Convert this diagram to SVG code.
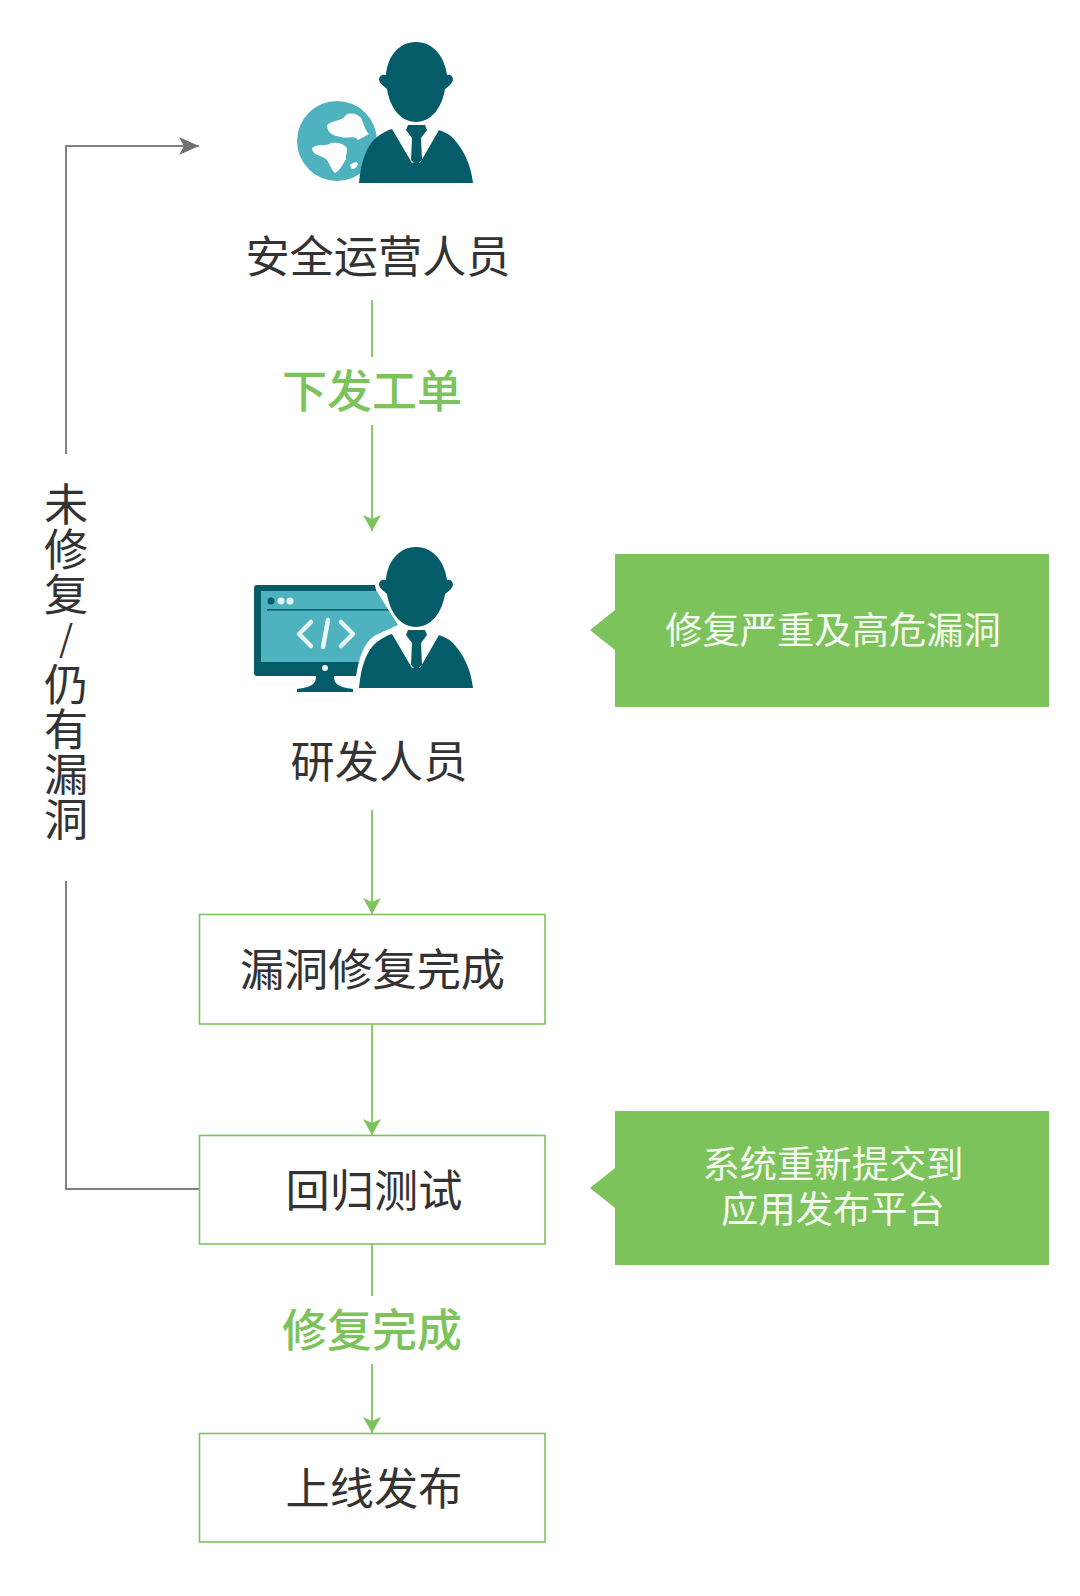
<svg xmlns="http://www.w3.org/2000/svg" xmlns:xlink="http://www.w3.org/1999/xlink" width="1080" height="1596" viewBox="0 0 1080 1596">
<style>
text{font-family:"Noto Sans CJK SC","Noto Sans",sans-serif;text-anchor:middle}
.dark{font-size:44.2px;fill:#333}
.grn{font-size:45px;fill:#7dc35c;font-weight:500}
.wht{font-size:37.300px;fill:#f4faf0}
.box{fill:#fff;stroke:#7dc35c;stroke-width:1.6}
.call{fill:#7dc35c}
.g{fill:none;stroke:#7dc35c;stroke-width:1.8}
.k{fill:none;stroke:#808080;stroke-width:2}
.teal{fill:#045c69}
.lt{fill:#4fb3bf}
</style>
<defs>
<marker id="ag" markerUnits="userSpaceOnUse" markerWidth="18" markerHeight="20" refX="16" refY="10" orient="auto"><path d="M0 1L16 10L0 19L4 10Z" fill="#7dc35c"/></marker>
<marker id="ak" markerUnits="userSpaceOnUse" markerWidth="22" markerHeight="20" refX="20" refY="10" orient="auto"><path d="M0 1L20 10L0 19L5 10Z" fill="#707070"/></marker>
<g id="person">
<path class="teal" d="M416 42C398 42 387 58 386 75C382 74 379 76 379 80C380 84 385 87 387 89C390 108 401 122 416 122C431 122 442 108 445 89C448 87 452 84 453 80C453 76 450 74 447 75C445 58 434 42 416 42Z"/>
<path class="teal" d="M359 183C361 160 367 145 377 137C382 133 388 130 392 129L412 163H420L439 130C444 132 449 134 453 138C464 150 471 165 473 183Z"/>
<path class="teal" d="M408 125H425L427 130L421 138L422 160L416 165L411 160L412 138L406 130Z"/>
</g>
</defs>
<rect width="1080" height="1596" fill="#fff"/>

<g id="connectors">
<path class="g" d="M372 300V357"/>
<path class="g" d="M372 425V531" marker-end="url(#ag)"/>
<path class="g" d="M372 810V914" marker-end="url(#ag)"/>
<path class="g" d="M372 1024V1135" marker-end="url(#ag)"/>
<path class="g" d="M372 1244V1296"/>
<path class="g" d="M372 1364V1433" marker-end="url(#ag)"/>
<path class="k" d="M200 1189H66V881"/>
<path class="k" d="M66 454V146H199" marker-end="url(#ak)"/>
</g>

<g id="node-security">
<circle class="lt" cx="337" cy="141" r="40"/>
<path fill="#fff" d="M327 125C332 120 341 122 346 115C351 112 358 114 361 118C364 124 365 130 369 134L358 140C354 135 347 139 341 137C335 136 327 134 327 125ZM312 148C318 143 326 147 331 143C337 142 343 143 346 147C349 151 345 155 346 159C343 164 339 172 335 173C331 170 330 163 326 159C320 155 312 155 312 148ZM350 165C353 162 358 161 358 164C357 168 353 170 351 168Z"/>
<use xlink:href="#person" href="#person"/>
<text class="dark" x="378" y="273">安全运营人员</text>
</g>

<g id="node-dev">
<rect class="teal" x="254" y="585" width="155" height="91" rx="3"/>
<rect class="lt" x="261" y="591" width="140" height="71"/>
<rect class="teal" x="267" y="609" width="130" height="1.6"/>
<circle class="teal" cx="271" cy="601" r="3.500"/>
<circle cx="281" cy="601" r="3.500" fill="#e4f4f6"/>
<circle cx="290" cy="601" r="3.500" fill="#e4f4f6"/>
<path d="M311 622L299 634L311 646M341 622L353 634L341 646M328 620L323 647" fill="none" stroke="#e9f6f7" stroke-width="4.500" stroke-linecap="round" stroke-linejoin="round"/>
<circle cx="325" cy="668" r="3" fill="#e4f4f6"/>
<path class="teal" d="M316 676H334C334 684 338 687 353 689V692H297V689C312 687 316 684 316 676Z"/>
<path d="M355 688C357 660 364 640 378 634L398 625L376 590L372 572L410 585L440 640L478 688Z" fill="#fff"/>
<use xlink:href="#person" href="#person" y="505"/>
<text class="dark" x="379" y="778">研发人员</text>
</g>

<g id="node-fixed">
<rect class="box" x="199.500" y="914.500" width="345.500" height="109.500"/>
<text class="dark" x="372.500" y="986">漏洞修复完成</text>
</g>
<g id="node-regression">
<rect class="box" x="199.500" y="1135.500" width="345.500" height="108.500"/>
<text class="dark" x="374" y="1207">回归测试</text>
</g>
<g id="node-release">
<rect class="box" x="199.500" y="1433.500" width="345.500" height="108.500"/>
<text class="dark" x="374" y="1505">上线发布</text>
</g>

<g id="callout-fix">
<path class="call" d="M615 554H1049V707H615V650L590 630L615 610Z"/>
<text class="wht" x="833" y="644">修复严重及高危漏洞</text>
</g>
<g id="callout-resubmit">
<path class="call" d="M615 1111H1049V1265H615V1208L590 1188L615 1168Z"/>
<text class="wht" x="833" y="1178">系统重新提交到</text>
<text class="wht" x="833" y="1223">应用发布平台</text>
</g>

<g id="labels">
<text class="grn" x="372" y="408">下发工单</text>
<text class="grn" x="372" y="1347">修复完成</text>
<text class="dark"><tspan x="66" y="521">未</tspan><tspan x="66" y="566">修</tspan><tspan x="66" y="611">复</tspan><tspan x="66" y="652" font-size="36">/</tspan><tspan x="66" y="701">仍</tspan><tspan x="66" y="746">有</tspan><tspan x="66" y="791">漏</tspan><tspan x="66" y="836">洞</tspan></text>
</g>
</svg>
